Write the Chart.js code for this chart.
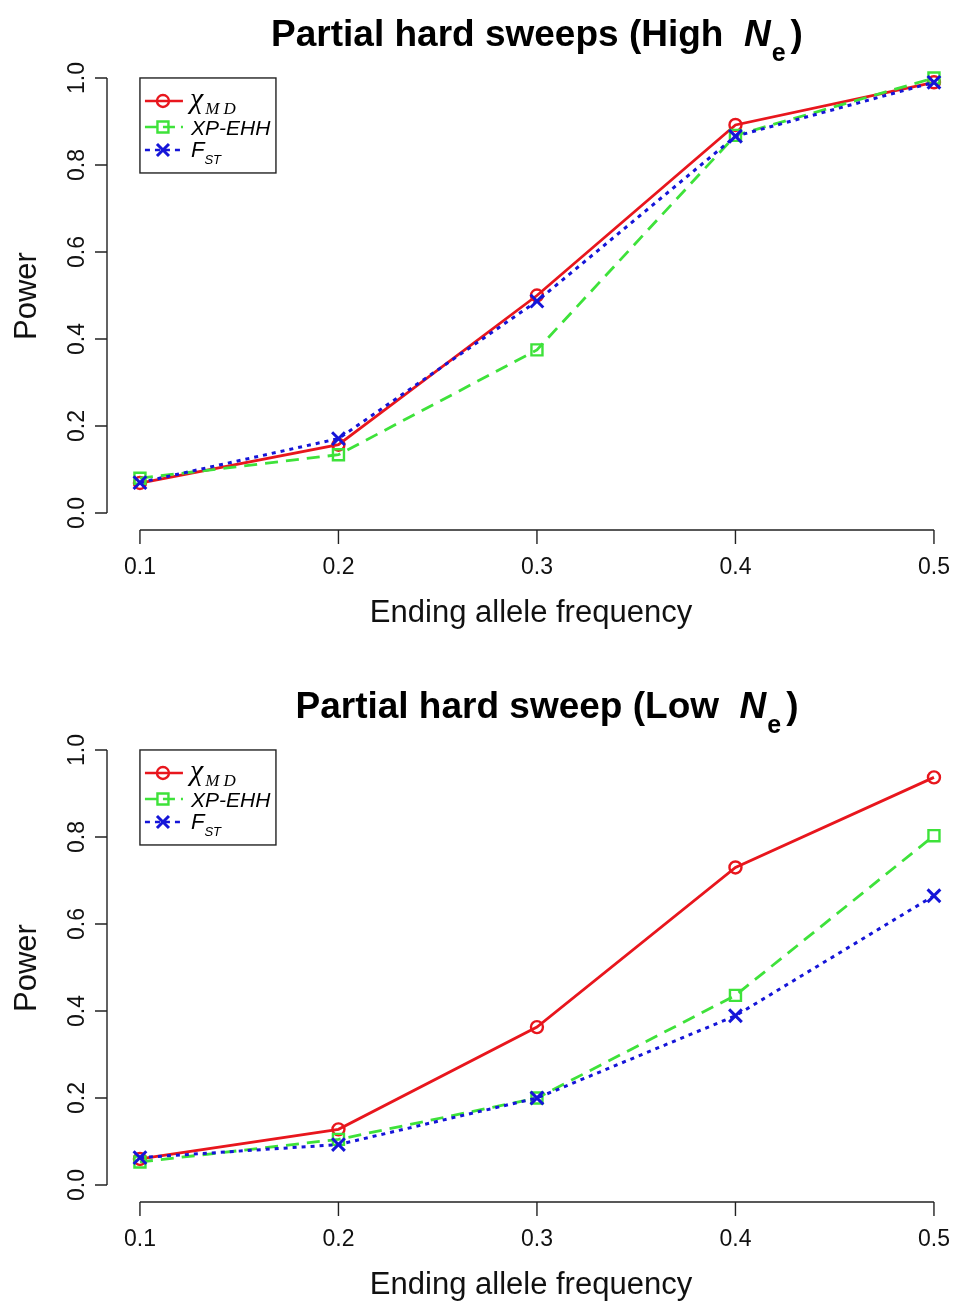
<!DOCTYPE html>
<html>
<head>
<meta charset="utf-8">
<script src="https://cdn.jsdelivr.net/npm/chart.js@4.4.1/dist/chart.umd.min.js"></script>
<style>
  html, body { margin: 0; padding: 0; background: #fff; }
  #wrap { position: relative; width: 956px; height: 1304px; overflow: hidden; }
  .panel { position: absolute; left: 0; width: 956px; }
</style>
</head>
<body>
<div id="wrap">
  <div class="panel" style="top:0"><canvas id="c1" width="956" height="660"></canvas></div>
  <div class="panel" style="top:672px"><canvas id="c2" width="956" height="632"></canvas></div>
</div>
<script>
// ending allele frequency on the x axis
const freqs = [0.1, 0.2, 0.3, 0.4, 0.5];
const xTicks = [0.1, 0.2, 0.3, 0.4, 0.5];
const yTicks = [0.0, 0.2, 0.4, 0.6, 0.8, 1.0];

// power, high Ne
const highChi  = [0.069, 0.157, 0.500, 0.892, 0.990];
const highXp   = [0.080, 0.134, 0.375, 0.868, 1.000];
const highFst  = [0.070, 0.171, 0.487, 0.866, 0.990];

// power, low Ne
const lowChi   = [0.060, 0.128, 0.363, 0.730, 0.937];
const lowXp    = [0.053, 0.105, 0.200, 0.436, 0.803];
const lowFst   = [0.063, 0.093, 0.200, 0.389, 0.665];

const RED = '#e8161d';
const GREEN = '#3ee23a';
const BLUE = '#1515d8';
const SANS = '"Liberation Sans", Arial, sans-serif';
const SERIF = '"Liberation Serif", "DejaVu Serif", serif';

function pts(ys) {
    return freqs.map((f, i) => ({ x: f, y: ys[i] }));
}

function drawMarker(ctx, kind, x, y, color) {
    ctx.save();
    ctx.strokeStyle = color;
    ctx.setLineDash([]);
    ctx.beginPath();
    if (kind === 'circle') {
        ctx.lineWidth = 2.4;
        ctx.arc(x, y, 6, 0, Math.PI * 2);
    } else if (kind === 'rect') {
        ctx.lineWidth = 2.4;
        ctx.rect(x - 5.5, y - 5.5, 11, 11);
    } else {
        ctx.lineWidth = 3;
        ctx.moveTo(x - 6, y - 6); ctx.lineTo(x + 6, y + 6);
        ctx.moveTo(x - 6, y + 6); ctx.lineTo(x + 6, y - 6);
    }
    ctx.stroke();
    ctx.restore();
}

// draws a run of text pieces (for italics and subscripts)
function drawRuns(ctx, runs, x, y, align) {
    let total = 0;
    runs.forEach(r => { ctx.font = r.font; total += ctx.measureText(r.t).width + (r.gap || 0); });
    let cx = align === 'center' ? x - total / 2 : x;
    ctx.textAlign = 'left';
    ctx.textBaseline = 'alphabetic';
    runs.forEach(r => {
        ctx.font = r.font;
        ctx.fillText(r.t, cx, y + (r.dy || 0));
        cx += ctx.measureText(r.t).width + (r.gap || 0);
    });
}

const rPlot = {
    id: 'rPlot',
    afterDraw(chart, args, opts) {
        const ctx = chart.ctx;
        const xs = chart.scales.x, ys = chart.scales.y;
        const area = chart.chartArea;
        ctx.save();
        ctx.strokeStyle = '#222';
        ctx.fillStyle = '#111';
        ctx.lineWidth = 1.4;

        // x axis (R style, only over the tick range)
        const yb = area.bottom;
        ctx.beginPath();
        ctx.moveTo(xs.getPixelForValue(xTicks[0]), yb);
        ctx.lineTo(xs.getPixelForValue(xTicks[xTicks.length - 1]), yb);
        xTicks.forEach(t => {
            const px = xs.getPixelForValue(t);
            ctx.moveTo(px, yb); ctx.lineTo(px, yb + 14);
        });
        ctx.stroke();
        ctx.font = '23px ' + SANS;
        ctx.textAlign = 'center';
        ctx.textBaseline = 'middle';
        xTicks.forEach(t => ctx.fillText(t.toFixed(1), xs.getPixelForValue(t), yb + 38));

        // y axis
        const xl = area.left;
        ctx.beginPath();
        ctx.moveTo(xl, ys.getPixelForValue(yTicks[0]));
        ctx.lineTo(xl, ys.getPixelForValue(yTicks[yTicks.length - 1]));
        yTicks.forEach(t => {
            const py = ys.getPixelForValue(t);
            ctx.moveTo(xl, py); ctx.lineTo(xl - 12, py);
        });
        ctx.stroke();
        yTicks.forEach(t => {
            ctx.save();
            ctx.translate(xl - 29, ys.getPixelForValue(t));
            ctx.rotate(-Math.PI / 2);
            ctx.fillText(t.toFixed(1), 0, 0);
            ctx.restore();
        });

        // axis titles
        ctx.font = '31px ' + SANS;
        ctx.fillText('Ending allele frequency', 531, yb + 83);
        ctx.save();
        ctx.translate(27, 296);
        ctx.rotate(-Math.PI / 2);
        ctx.fillText('Power', 0, 0);
        ctx.restore();

        // main title
        ctx.fillStyle = '#000';
        drawRuns(ctx, [
            { t: opts.title + ' (' + opts.ne + '  ', font: 'bold 37px ' + SANS },
            { t: 'N', font: 'italic bold 37px ' + SANS, gap: 1 },
            { t: 'e', font: 'bold 25px ' + SANS, dy: 15, gap: 5 },
            { t: ')', font: 'bold 37px ' + SANS }
        ], opts.titleX, 46, 'center');

        // legend box
        const bx = xs.getPixelForValue(0.1), by = ys.getPixelForValue(1.0);
        ctx.strokeStyle = '#222';
        ctx.lineWidth = 1.4;
        ctx.strokeRect(bx, by, 136, 95);
        const rows = [
            { color: RED, dash: [], mk: 'circle', dy: 23 },
            { color: GREEN, dash: [12, 6], mk: 'rect', dy: 49 },
            { color: BLUE, dash: [5, 5], mk: 'cross', dy: 72 }
        ];
        rows.forEach(r => {
            const yy = by + r.dy;
            ctx.save();
            ctx.strokeStyle = r.color;
            ctx.lineWidth = 2.6;
            ctx.setLineDash(r.dash);
            ctx.beginPath();
            ctx.moveTo(bx + 5, yy); ctx.lineTo(bx + 43, yy);
            ctx.stroke();
            ctx.restore();
            drawMarker(ctx, r.mk, bx + 23, yy, r.color);
        });
        ctx.fillStyle = '#000';
        drawRuns(ctx, [
            { t: 'χ', font: 'italic 30px ' + SERIF, gap: 2 },
            { t: 'M D', font: 'italic 17px ' + SERIF, dy: 6 }
        ], bx + 50, by + 30);
        drawRuns(ctx, [{ t: 'XP-EHH', font: 'italic 21px ' + SANS }], bx + 51, by + 57);
        drawRuns(ctx, [
            { t: 'F', font: 'italic 22px ' + SANS },
            { t: 'ST', font: 'italic 13px ' + SANS, dy: 7 }
        ], bx + 51, by + 79);
        ctx.restore();
    }
};

function makeChart(id, title, ne, titleX, chi, xp, fst, padBottom) {
    const ctx = document.getElementById(id).getContext('2d');
    return new Chart(ctx, {
        type: 'line',
        data: {
            datasets: [
                {
                    label: 'chi MD', data: pts(chi), order: 3,
                    borderColor: RED, borderWidth: 2.8,
                    pointStyle: 'circle', pointRadius: 6, pointBorderWidth: 2.4,
                    pointBorderColor: RED, pointBackgroundColor: 'rgba(0,0,0,0)'
                },
                {
                    label: 'XP-EHH', data: pts(xp), order: 2,
                    borderColor: GREEN, borderWidth: 2.8, borderDash: [13, 8],
                    pointStyle: 'rect', pointRadius: 7.8, pointBorderWidth: 2.4,
                    pointBorderColor: GREEN, pointBackgroundColor: 'rgba(0,0,0,0)'
                },
                {
                    label: 'F ST', data: pts(fst), order: 1,
                    borderColor: BLUE, borderWidth: 3, borderDash: [4, 5],
                    pointStyle: 'crossRot', pointRadius: 9, pointBorderWidth: 3,
                    pointBorderColor: BLUE, pointBackgroundColor: BLUE
                }
            ]
        },
        options: {
            responsive: false,
            animation: false,
            layout: { autoPadding: false, padding: { left: 107, right: 1, top: 61, bottom: padBottom } },
            scales: {
                x: { type: 'linear', min: 0.0834, max: 0.5106, display: false },
                y: { type: 'linear', min: -0.039, max: 1.039, display: false }
            },
            plugins: {
                legend: { display: false },
                tooltip: { enabled: false },
                rPlot: { title: title, ne: ne, titleX: titleX }
            }
        },
        plugins: [rPlot]
    });
}

makeChart('c1', 'Partial hard sweeps', 'High', 537, highChi, highXp, highFst, 130);
makeChart('c2', 'Partial hard sweep', 'Low', 547, lowChi, lowXp, lowFst, 102);
</script>
</body>
</html>
